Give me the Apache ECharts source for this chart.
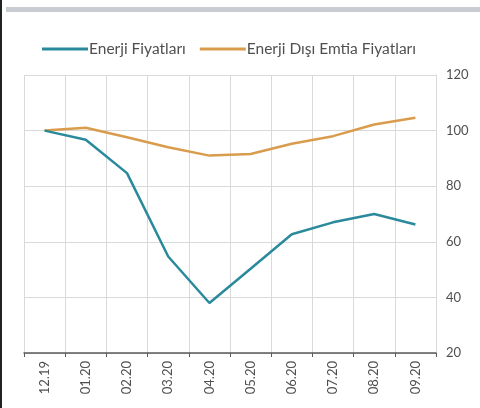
<!DOCTYPE html>
<html><head><meta charset="utf-8">
<script src="https://cdn.jsdelivr.net/npm/echarts@6/dist/echarts.min.js"></script>
<style>html,body{margin:0;padding:0;background:#fff}#c{width:480px;height:408px}</style>
</head><body><div id="c"></div>
<script>
var categories = ['12.19','01.20','02.20','03.20','04.20','05.20','06.20','07.20','08.20','09.20'];
var energy = [100, 96.7, 84.7, 54.7, 38, 50.3, 62.7, 67, 70, 66.2];
var nonEnergy = [100, 101, 97.6, 94, 91, 91.6, 95.3, 98, 102.2, 104.6];
var yTicks = {min: 20, max: 120, interval: 20};
var seriesNames = ['Enerji Fiyatları', 'Enerji Dışı Emtia Fiyatları'];

var chart = echarts.init(document.getElementById('c'));
var font = 'Lato';
chart.setOption({
  animation: false,
  textStyle: {fontFamily: font},
  graphic: [
    {type: 'rect', shape: {x: 0, y: 0, width: 2, height: 408}, style: {fill: '#222'}},
    {type: 'rect', shape: {x: 6, y: 7, width: 474, height: 5}, style: {fill: '#c9cdd1'}}
  ],
  legend: {
    left: 37, top: 36, icon: 'rect', itemWidth: 46, itemHeight: 3, itemGap: 14,
    textStyle: {fontFamily: font, fontSize: 15.5, color: '#505050', padding: [0,0,0,-4]},
    data: seriesNames
  },
  grid: {left: 24, right: 44, top: 75, bottom: 55, containLabel: false},
  xAxis: {
    type: 'category', data: categories, boundaryGap: true,
    axisLine: {lineStyle: {color: '#595959', width: 1.5}},
    axisTick: {show: true, alignWithLabel: false, length: 4, lineStyle: {color: '#595959'}},
    axisLabel: {rotate: 90, fontFamily: font, fontSize: 13, color: '#505050', margin: 8},
    splitLine: {show: true, lineStyle: {color: '#d9d9d9'}}
  },
  yAxis: {
    type: 'value', position: 'right', min: yTicks.min, max: yTicks.max, interval: yTicks.interval,
    axisLine: {show: true, lineStyle: {color: '#d9d9d9'}},
    axisTick: {show: false},
    axisLabel: {fontFamily: font, fontSize: 13, color: '#505050', margin: 10},
    splitLine: {show: true, lineStyle: {color: '#d9d9d9'}}
  },
  series: [
    {name: seriesNames[0], type: 'line', data: energy, symbol: 'none',
     lineStyle: {color: '#2a8a9c', width: 2.5}, itemStyle: {color: '#2a8a9c'}, z: 3},
    {name: seriesNames[1], type: 'line', data: nonEnergy, symbol: 'none',
     lineStyle: {color: '#d99c4c', width: 2.5}, itemStyle: {color: '#d99c4c'}, z: 2}
  ]
});
</script></body></html>
